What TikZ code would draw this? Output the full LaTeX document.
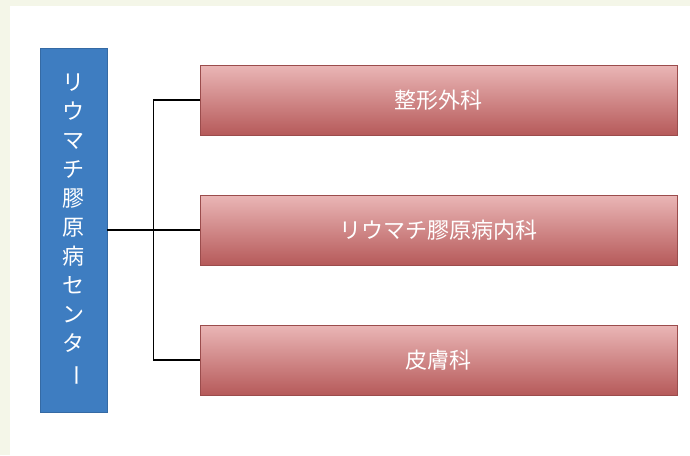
\documentclass[tikz,border=0pt]{standalone}
\usepackage{fontspec}
\setmainfont{Noto Sans CJK JP}
\usepackage{tikz}
\usetikzlibrary{positioning,calc}
\definecolor{crema}{HTML}{F4F6E8}
\definecolor{azul}{HTML}{3E7DC1}
\definecolor{rosa}{HTML}{EAB6B6}
\definecolor{granate}{HTML}{B65A5A}

\begin{document}
\begin{tikzpicture}[x=1pt, y=-1pt, line width=1.3pt, node distance=60pt,
        centro/.style = {rectangle, fill=azul, draw=azul!85!black, line width=0.6pt, outer sep=0pt, minimum width=67pt, minimum height=364pt, text=white, align=center, font=\fontsize{22}{29}\selectfont},
        depto/.style = {rectangle, top color=rosa, bottom color=granate, draw=granate!85!black, line width=0.6pt, outer sep=0pt, minimum width=477pt, minimum height=70pt, text=white, font=\fontsize{22}{26}\selectfont}]
        \fill[crema] (0,0) rectangle (690,455);
        \fill[white] (10,6) rectangle (690,455);

        \node[centro] (1) at (73.5,230) {リ\\ウ\\マ\\チ\\膠\\原\\病\\セ\\ン\\タ\\\rotatebox[origin=c]{-90}{ー}};
        \node[depto] (2) at (438.5,100) {整形外科};
        \node[depto] (3) [below=of 2] {リウマチ膠原病内科};
        \node[depto] (4) [below=of 3] {皮膚科};

        \coordinate (5) at ($(1.east)!0.5!(3.west)$);

        \draw (1) -- (3);
        \draw (2.west) -| (5) |- (4.west);
    \end{tikzpicture}
\end{document}
